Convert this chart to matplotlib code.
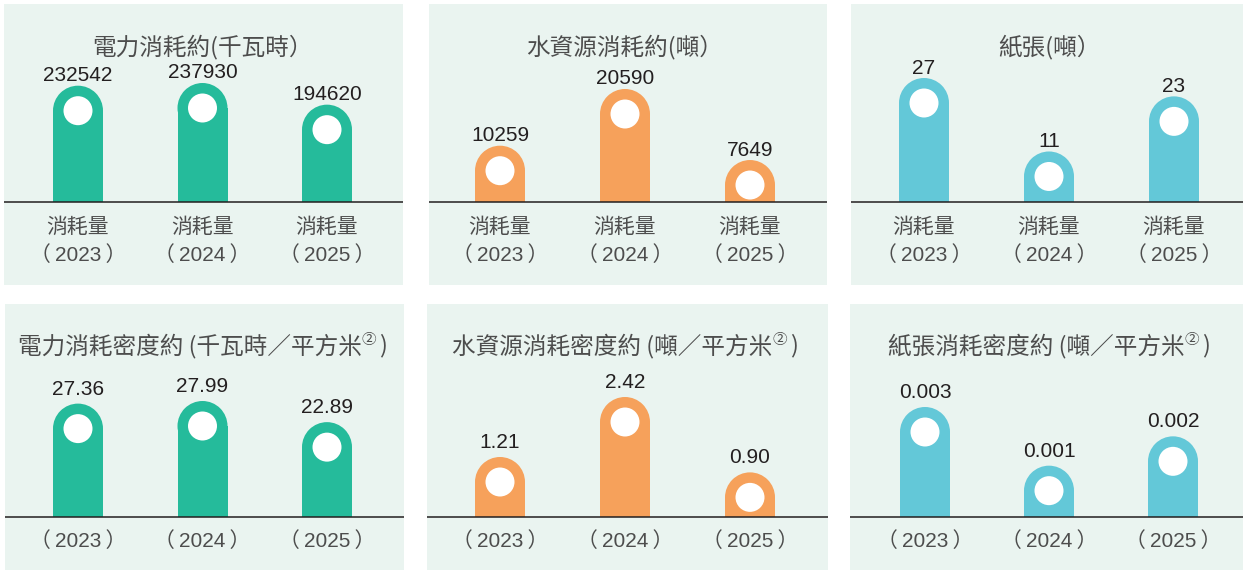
import matplotlib
matplotlib.use('Agg')
import matplotlib.pyplot as plt
from matplotlib.patches import Rectangle, Ellipse
import matplotlib.transforms as mtransforms

# ---------------- data ----------------
years = ['2023', '2024', '2025']
cat_word = '消耗量'

elec = [232542, 237930, 194620]
water = [10259, 20590, 7649]
paper = [27, 11, 23]
elec_int = [27.36, 27.99, 22.89]
water_int = [1.21, 2.42, 0.90]
paper_int = [0.0030, 0.0014, 0.0022]

titles_top = ['電力消耗約(千瓦時）', '水資源消耗約(噸）', '紙張(噸）']
titles_bottom = ['電力消耗密度約 (千瓦時／平方米', '水資源消耗密度約 (噸／平方米', '紙張消耗密度約 (噸／平方米']
note_mark = '②'
close_paren = ')'

# ---------------- style ----------------
W, H, DPI = 1243, 571, 100
BG = '#EAF4F0'
GREEN = '#25BB9B'
ORANGE = '#F6A15B'
CYAN = '#63C8D8'
TXT_DARK = '#231F20'
TXT_GRAY = '#4D4D4D'
LAT = ['Liberation Sans', 'Noto Sans CJK TC', 'DejaVu Sans']
CJK = ['Noto Sans CJK TC', 'DejaVu Sans']

fig = plt.figure(figsize=(W / DPI, H / DPI), dpi=DPI)
fig.patch.set_facecolor('white')

panels = [
    dict(rect=(4, 4, 403, 285), base=202, cx=(78, 202, 327), vals=elec, hmax=119, col=GREEN,
         fmt='{:.0f}', row=0, title=titles_top[0]),
    dict(rect=(429, 4, 827, 285), base=202, cx=(500, 625, 750), vals=water, hmax=113, col=ORANGE,
         fmt='{:.0f}', row=0, title=titles_top[1]),
    dict(rect=(851, 4, 1243, 285), base=202, cx=(924, 1050, 1174), vals=paper, hmax=124, col=CYAN,
         fmt='{:.0f}', row=0, title=titles_top[2]),
    dict(rect=(5, 304, 404, 570), base=517, cx=(78, 202, 327), vals=elec_int, hmax=116, col=GREEN,
         fmt='{:.2f}', row=1, title=titles_bottom[0]),
    dict(rect=(427, 304, 828, 570), base=517, cx=(500, 626, 750), vals=water_int, hmax=120, col=ORANGE,
         fmt='{:.2f}', row=1, title=titles_bottom[1]),
    dict(rect=(850, 304, 1243, 570), base=517, cx=(925, 1050, 1173), vals=paper_int, hmax=110, col=CYAN,
         fmt='{:.3f}', row=1, title=titles_bottom[2]),
]

BAR_W = 50      # px
R_IN = 14.5     # px, white dot radius
renderer = fig.canvas.get_renderer()
PT = 72.0 / DPI
THIN = '\u2009'


def px2pt(v):
    return v * PT


for p in panels:
    x0, y0, x1, y1 = p['rect']
    ax = fig.add_axes([x0 / W, 1 - y1 / H, (x1 - x0) / W, (y1 - y0) / H])
    ax.set_facecolor(BG)
    for s in ax.spines.values():
        s.set_visible(False)
    ax.set_xticks([])
    ax.set_yticks([])

    vals = p['vals']
    k = max(vals) / p['hmax']                 # value per pixel
    sp = (p['cx'][2] - p['cx'][0]) / 2.0      # pixels per category
    xl = (-(p['cx'][0] - x0) / sp, 2 + (x1 - p['cx'][2]) / sp)
    yl = (-(y1 - p['base']) * k, (p['base'] - y0) * k)
    ax.set_xlim(*xl)
    ax.set_ylim(*yl)

    clip = Rectangle((xl[0], 0), xl[1] - xl[0], yl[1], transform=ax.transData)

    w = BAR_W / sp
    r = BAR_W / 2 * k
    for i, v in enumerate(vals):
        ax.add_patch(Rectangle((i - w / 2, 0), w, max(v - r, 0), facecolor=p['col'],
                               edgecolor='none', zorder=2))
        cap = Ellipse((i, v - r), w, 2 * r, facecolor=p['col'], edgecolor='none', zorder=2)
        ax.add_patch(cap)
        cap.set_clip_path(clip)
        ax.add_patch(Ellipse((i, v - r), 2 * R_IN / sp, 2 * R_IN * k, facecolor='white',
                             edgecolor='none', zorder=3))
        off = 4.5 if p['row'] == 0 else 9.0
        ax.annotate(p['fmt'].format(v), xy=(i, v), xytext=(0, px2pt(off)), textcoords='offset points',
                    ha='center', va='baseline', fontsize=15, color=TXT_DARK, family=LAT, zorder=4)

    ax.axhline(0, color=TXT_DARK, lw=1.1, zorder=5)

    xt = ax.get_xaxis_transform()
    hpx = y1 - y0

    def fy(ypix):
        return (y1 - ypix) / hpx

    if p['row'] == 0:
        for i, yr in enumerate(years):
            ax.text(i, fy(227), cat_word, transform=xt, ha='center', va='center',
                    fontsize=15, color=TXT_GRAY, family=CJK)
            ax.text(i, fy(255), '（' + THIN + yr + THIN + '）', transform=xt, ha='center', va='center',
                    fontsize=15, color=TXT_GRAY, family=LAT)
        ax.text(1, fy(47), p['title'], transform=xt, ha='center', va='center',
                fontsize=17, color=TXT_GRAY, family=CJK)
    else:
        for i, yr in enumerate(years):
            ax.text(i, fy(541), '（' + THIN + yr + THIN + '）', transform=xt, ha='center', va='center',
                    fontsize=15, color=TXT_GRAY, family=LAT)
        # title in pieces: main text, superscript mark, closing paren
        parts = [(p['title'], 17, 0.0, 0.0), (note_mark, 10.5, 6.0, 0.0), (close_paren, 17, 0.0, 3.0)]
        objs = []
        for txt, fs, dy, gap in parts:
            t = ax.text(1, fy(346), txt, transform=xt, ha='left', va='center',
                        fontsize=fs, color=TXT_GRAY, family=CJK)
            objs.append((t, dy, gap))
        widths = [o[0].get_window_extent(renderer).width for o in objs]
        total = sum(widths) + sum(o[2] for o in objs)
        cur = -total / 2
        for (t, dy, gap), wd in zip(objs, widths):
            cur += gap
            t.set_transform(mtransforms.offset_copy(xt, fig=fig, x=px2pt(cur), y=px2pt(dy), units='points'))
            cur += wd

fig.savefig('out.png', dpi=DPI, facecolor='white')
